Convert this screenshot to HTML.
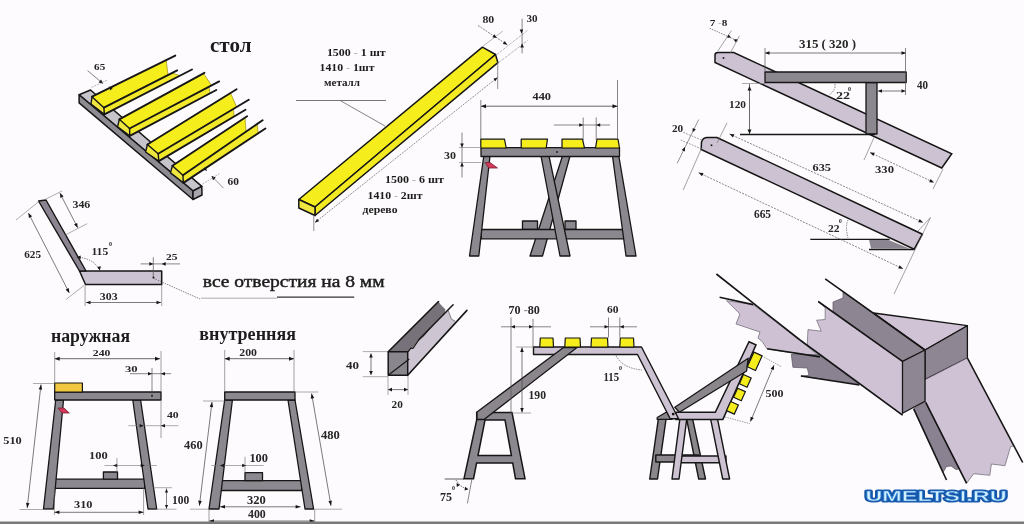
<!DOCTYPE html>
<html><head><meta charset="utf-8"><style>
html,body{margin:0;padding:0;background:#fdfbfd;}
svg{display:block;}
</style></head><body>
<svg width="1024" height="524" viewBox="0 0 1024 524">
<defs><filter id="soft" x="0" y="0" width="1" height="1"><feGaussianBlur stdDeviation="0.4"/></filter></defs>
<g filter="url(#soft)">
<rect width="1024" height="524" fill="#fdfbfd"/>
<polygon points="79.1,94.8 90.5,90.0 201.8,186.4 193.0,191.0" fill="#c8c4cc" stroke="#161616" stroke-width="1.5" stroke-linejoin="round" />
<polygon points="79.1,94.8 193.0,191.0 193.0,199.5 79.1,102.9" fill="#8e8a92" stroke="#161616" stroke-width="1.5" stroke-linejoin="round" />
<polygon points="193.0,191.0 201.8,186.4 202.0,195.0 193.0,199.5" fill="#a9a5ad" stroke="#161616" stroke-width="1.5" stroke-linejoin="round" />
<polygon points="92.0,96.7 103.9,107.7 168.0,75.1 166.2,60.1" fill="#f6ee1c" />
<polygon points="103.9,107.7 104.4,114.4 180.0,75.7 172.0,73.0" fill="#f2e92a" />
<polygon points="92.0,96.7 103.9,107.7 104.4,114.4 91.0,104.0" fill="#efe640" stroke="#161616" stroke-width="1.4" stroke-linejoin="round" />
<line x1="166.2" y1="60.1" x2="168.0" y2="75.1" stroke="#a89a20" stroke-width="0.8"/>
<line x1="172.0" y1="73.0" x2="180.0" y2="75.7" stroke="#a89a20" stroke-width="0.8"/>
<line x1="92.0" y1="96.7" x2="175.3" y2="55.6" stroke="#161616" stroke-width="1.9" stroke-linecap="round"/>
<line x1="103.9" y1="107.7" x2="177.2" y2="70.4" stroke="#161616" stroke-width="1.9" stroke-linecap="round"/>
<line x1="104.4" y1="114.4" x2="192.0" y2="69.5" stroke="#161616" stroke-width="1.9" stroke-linecap="round"/>
<polygon points="119.3,119.3 129.6,128.5 211.5,85.4 203.4,73.3" fill="#f6ee1c" />
<polygon points="129.6,128.5 129.8,135.9 210.0,93.3 209.0,86.8" fill="#f2e92a" />
<polygon points="119.3,119.3 129.6,128.5 129.8,135.9 117.6,126.8" fill="#efe640" stroke="#161616" stroke-width="1.4" stroke-linejoin="round" />
<line x1="203.4" y1="73.3" x2="211.5" y2="85.4" stroke="#a89a20" stroke-width="0.8"/>
<line x1="209.0" y1="86.8" x2="210.0" y2="93.3" stroke="#a89a20" stroke-width="0.8"/>
<line x1="119.3" y1="119.3" x2="204.4" y2="72.8" stroke="#161616" stroke-width="1.9" stroke-linecap="round"/>
<line x1="129.6" y1="128.5" x2="219.2" y2="81.4" stroke="#161616" stroke-width="1.9" stroke-linecap="round"/>
<line x1="129.8" y1="135.9" x2="216.3" y2="90.0" stroke="#161616" stroke-width="1.9" stroke-linecap="round"/>
<polygon points="147.4,144.5 158.2,153.7 236.6,107.0 230.5,93.0" fill="#f6ee1c" />
<polygon points="158.2,153.7 158.8,161.1 234.0,116.5 233.5,108.8" fill="#f2e92a" />
<polygon points="147.4,144.5 158.2,153.7 158.8,161.1 145.6,152.0" fill="#efe640" stroke="#161616" stroke-width="1.4" stroke-linejoin="round" />
<line x1="230.5" y1="93.0" x2="236.6" y2="107.0" stroke="#a89a20" stroke-width="0.8"/>
<line x1="233.5" y1="108.8" x2="234.0" y2="116.5" stroke="#a89a20" stroke-width="0.8"/>
<line x1="147.4" y1="144.5" x2="236.6" y2="89.2" stroke="#161616" stroke-width="1.9" stroke-linecap="round"/>
<line x1="158.2" y1="153.7" x2="248.8" y2="99.7" stroke="#161616" stroke-width="1.9" stroke-linecap="round"/>
<line x1="158.8" y1="161.1" x2="245.5" y2="109.7" stroke="#161616" stroke-width="1.9" stroke-linecap="round"/>
<polygon points="172.4,165.7 182.9,175.3 246.0,131.7 245.0,117.7" fill="#f6ee1c" />
<polygon points="182.9,175.3 183.4,182.9 258.2,133.3 257.1,124.0" fill="#f2e92a" />
<polygon points="172.4,165.7 182.9,175.3 183.4,182.9 170.5,172.9" fill="#efe640" stroke="#161616" stroke-width="1.4" stroke-linejoin="round" />
<line x1="245.0" y1="117.7" x2="246.0" y2="131.7" stroke="#a89a20" stroke-width="0.8"/>
<line x1="257.1" y1="124.0" x2="258.2" y2="133.3" stroke="#a89a20" stroke-width="0.8"/>
<line x1="172.4" y1="165.7" x2="247.1" y2="116.3" stroke="#161616" stroke-width="1.9" stroke-linecap="round"/>
<line x1="182.9" y1="175.3" x2="262.6" y2="120.2" stroke="#161616" stroke-width="1.9" stroke-linecap="round"/>
<line x1="183.4" y1="182.9" x2="265.4" y2="128.5" stroke="#161616" stroke-width="1.9" stroke-linecap="round"/>
<text x="94.1" y="70.2" font-family="Liberation Serif" font-size="8.939393939393948" font-weight="bold" fill="#222" textLength="11.1" lengthAdjust="spacingAndGlyphs" >65</text>
<line x1="87.6" y1="70.6" x2="102.9" y2="83.6" stroke="#666" stroke-width="0.8"/>
<polygon points="102.9,83.6 98.6,82.5 101.1,79.6" fill="#161616" />
<polygon points="108.6,86.6 112.9,87.7 110.4,90.6" fill="#161616" />
<line x1="91.5" y1="87.4" x2="107.5" y2="80.1" stroke="#888" stroke-width="0.6" stroke-dasharray="2,1"/>
<text x="227.5" y="184.7" font-family="Liberation Serif" font-size="9.393939393939377" font-weight="bold" fill="#222" textLength="11.4" lengthAdjust="spacingAndGlyphs" >60</text>
<line x1="211.6" y1="176.0" x2="223.6" y2="188.3" stroke="#777" stroke-width="0.8"/>
<polygon points="211.6,176.0 215.8,177.5 213.0,180.2" fill="#161616" />
<polygon points="207.0,171.0 202.8,169.5 205.5,166.8" fill="#161616" />
<line x1="202.5" y1="184.0" x2="219.4" y2="173.7" stroke="#888" stroke-width="0.6" stroke-dasharray="2,1"/>
<text x="210.0" y="52.2" font-family="Liberation Serif" font-size="21.5" font-weight="bold" fill="#1e1e1e" textLength="41.5" lengthAdjust="spacingAndGlyphs" >стол</text>
<polygon points="298.8,199.5 315.0,207.0 495.5,54.5 482.4,47.2" fill="#f6ee1c" stroke="#161616" stroke-width="1.5" stroke-linejoin="round" />
<polygon points="315.0,207.0 315.0,215.5 497.9,62.7 495.5,54.5" fill="#f3ea24" stroke="#161616" stroke-width="1.5" stroke-linejoin="round" />
<polygon points="298.8,199.5 315.0,207.0 315.0,215.5 298.8,208.0" fill="#efe640" stroke="#161616" stroke-width="1.5" stroke-linejoin="round" />
<line x1="296.0" y1="100.5" x2="386.0" y2="100.5" stroke="#666" stroke-width="0.9"/>
<line x1="341.0" y1="101.0" x2="385.0" y2="126.0" stroke="#666" stroke-width="0.8"/>
<line x1="315.0" y1="222.5" x2="497.5" y2="77.5" stroke="#666" stroke-width="0.7" stroke-dasharray="2,1"/>
<polygon points="315.0,222.5 317.1,218.8 319.1,221.3" fill="#161616" />
<polygon points="497.5,77.5 495.4,81.2 493.4,78.7" fill="#161616" />
<line x1="313.8" y1="215.0" x2="313.8" y2="231.0" stroke="#666" stroke-width="0.7"/>
<line x1="497.7" y1="62.0" x2="497.7" y2="89.0" stroke="#666" stroke-width="0.7"/>
<line x1="482.4" y1="46.6" x2="502.9" y2="31.0" stroke="#888" stroke-width="0.6"/>
<line x1="496.7" y1="54.6" x2="528.3" y2="29.8" stroke="#888" stroke-width="0.6" stroke-dasharray="3,1"/>
<line x1="498.5" y1="62.7" x2="527.7" y2="40.4" stroke="#888" stroke-width="0.6" stroke-dasharray="3,1"/>
<line x1="478.0" y1="25.5" x2="507.2" y2="44.7" stroke="#555" stroke-width="0.7" stroke-dasharray="2,1"/>
<polygon points="496.7,37.9 492.4,37.2 494.4,34.2" fill="#161616" />
<polygon points="507.2,44.7 502.9,44.0 504.8,41.0" fill="#161616" />
<line x1="522.1" y1="18.7" x2="522.1" y2="53.4" stroke="#555" stroke-width="0.7"/>
<polygon points="521.5,33.5 519.7,29.5 523.3,29.5" fill="#161616" />
<polygon points="522.1,43.5 523.9,47.5 520.3,47.5" fill="#161616" />
<text x="482.4" y="23.0" font-family="Liberation Serif" font-size="9.393939393939393" font-weight="bold" fill="#252525" textLength="11.8" lengthAdjust="spacingAndGlyphs" >80</text>
<text x="526.5" y="22.4" font-family="Liberation Serif" font-size="9.393939393939393" font-weight="bold" fill="#252525" textLength="11.1" lengthAdjust="spacingAndGlyphs" >30</text>
<text x="326.9" y="55.5" font-family="Liberation Serif" font-size="10.000000000000002" font-weight="bold" fill="#1a1a1a" textLength="58.7" lengthAdjust="spacingAndGlyphs" >1500 <tspan fill="#b0b0b0">-</tspan> 1 шт</text>
<text x="319.6" y="70.6" font-family="Liberation Serif" font-size="9.999999999999991" font-weight="bold" fill="#1a1a1a" textLength="55.0" lengthAdjust="spacingAndGlyphs" >1410 <tspan fill="#b0b0b0">-</tspan> 1шт</text>
<text x="324.0" y="86.0" font-family="Liberation Serif" font-size="9.5" font-weight="bold" fill="#222" textLength="36.0" lengthAdjust="spacingAndGlyphs" >металл</text>
<text x="385.0" y="182.5" font-family="Liberation Serif" font-size="9.848484848484848" font-weight="bold" fill="#1a1a1a" textLength="59.0" lengthAdjust="spacingAndGlyphs" >1500 <tspan fill="#b0b0b0">-</tspan> 6 шт</text>
<text x="367.5" y="199.0" font-family="Liberation Serif" font-size="10.606060606060606" font-weight="bold" fill="#1a1a1a" textLength="55.0" lengthAdjust="spacingAndGlyphs" >1410 <tspan fill="#b0b0b0">-</tspan> 2шт</text>
<text x="362.5" y="212.5" font-family="Liberation Serif" font-size="10.5" font-weight="bold" fill="#222" textLength="35.0" lengthAdjust="spacingAndGlyphs" >дерево</text>
<polygon points="522.5,221.0 537.5,221.0 537.5,229.5 522.5,229.5" fill="#8c8890" stroke="#161616" stroke-width="1.3" stroke-linejoin="round" />
<polygon points="565.0,221.0 576.0,221.0 576.0,229.5 565.0,229.5" fill="#8c8890" stroke="#161616" stroke-width="1.3" stroke-linejoin="round" />
<polygon points="562.5,156.0 570.0,156.0 542.5,256.0 530.0,256.0" fill="#8c8890" stroke="#161616" stroke-width="1.3" stroke-linejoin="round" />
<polygon points="481.2,229.5 625.0,229.5 625.0,238.8 481.2,238.8" fill="#8c8890" stroke="#161616" stroke-width="1.3" stroke-linejoin="round" />
<polygon points="483.8,156.0 490.0,156.0 478.8,256.0 469.5,256.0" fill="#8c8890" stroke="#161616" stroke-width="1.3" stroke-linejoin="round" />
<polygon points="541.0,156.0 549.0,156.0 570.0,256.0 560.0,256.0" fill="#8c8890" stroke="#161616" stroke-width="1.3" stroke-linejoin="round" />
<polygon points="612.5,156.0 618.8,156.0 636.0,256.0 626.0,256.0" fill="#8c8890" stroke="#161616" stroke-width="1.3" stroke-linejoin="round" />
<polygon points="481.0,147.6 619.5,147.6 619.5,156.5 481.0,156.5" fill="#8c8890" stroke="#161616" stroke-width="1.3" stroke-linejoin="round" />
<polygon points="480.8,139.2 504.5,139.2 506.2,148.0 480.8,148.0" fill="#f6ee1c" stroke="#161616" stroke-width="1.2" stroke-linejoin="round" />
<polygon points="521.2,139.2 547.5,139.2 546.2,148.0 521.2,148.0" fill="#f6ee1c" stroke="#161616" stroke-width="1.2" stroke-linejoin="round" />
<polygon points="562.0,139.2 582.5,139.2 584.5,148.0 562.0,148.0" fill="#f6ee1c" stroke="#161616" stroke-width="1.2" stroke-linejoin="round" />
<polygon points="597.0,139.2 618.0,139.2 619.5,148.0 595.5,148.0" fill="#f6ee1c" stroke="#161616" stroke-width="1.2" stroke-linejoin="round" />
<polygon points="485.0,162.5 490.0,162.5 497.5,168.0 488.8,168.0" fill="#d2385a" stroke="#7a2030" stroke-width="0.8" stroke-linejoin="round" />
<line x1="481.0" y1="106.2" x2="617.5" y2="106.2" stroke="#444" stroke-width="0.8"/>
<polygon points="481.0,106.2 486.0,104.2 486.0,108.2" fill="#161616" />
<polygon points="617.5,106.2 612.5,108.2 612.5,104.2" fill="#161616" />
<line x1="480.8" y1="100.0" x2="480.8" y2="139.0" stroke="#555" stroke-width="0.7"/>
<line x1="617.5" y1="80.0" x2="617.5" y2="139.0" stroke="#555" stroke-width="0.7"/>
<text x="532.5" y="100.0" font-family="Liberation Serif" font-size="11.363636363636363" font-weight="bold" fill="#252525" textLength="18.5" lengthAdjust="spacingAndGlyphs" >440</text>
<line x1="553.8" y1="125.0" x2="610.0" y2="125.0" stroke="#555" stroke-width="0.7"/>
<polygon points="583.2,125.0 579.2,126.8 579.2,123.2" fill="#161616" />
<polygon points="596.2,125.0 600.2,123.2 600.2,126.8" fill="#161616" />
<line x1="583.2" y1="117.5" x2="583.2" y2="140.0" stroke="#555" stroke-width="0.7"/>
<line x1="596.2" y1="117.5" x2="596.2" y2="140.0" stroke="#555" stroke-width="0.7"/>
<line x1="462.0" y1="132.5" x2="462.0" y2="177.5" stroke="#555" stroke-width="0.7"/>
<polygon points="462.0,147.5 460.2,143.5 463.8,143.5" fill="#161616" />
<polygon points="462.0,162.5 463.8,166.5 460.2,166.5" fill="#161616" />
<line x1="459.0" y1="147.5" x2="481.0" y2="147.5" stroke="#777" stroke-width="0.6"/>
<line x1="459.0" y1="162.5" x2="481.0" y2="162.5" stroke="#777" stroke-width="0.6"/>
<text x="444.0" y="158.6" font-family="Liberation Serif" font-size="10.606060606060606" font-weight="bold" fill="#252525" textLength="12.0" lengthAdjust="spacingAndGlyphs" >30</text>
<path d="M715,62.5 L715,55 Q715,52.5 718,52.5 L733.75,52.5 L951.75,153.75 L941.75,168 Z" fill="#cdc2d2" stroke="#161616" stroke-width="1.5"/>
<polygon points="866.0,82.5 877.0,82.5 877.0,134.0 866.0,134.0" fill="#8c8890" stroke="#161616" stroke-width="1.3" stroke-linejoin="round" />
<polygon points="765.0,72.0 906.2,72.0 906.2,82.5 765.0,82.5" fill="#8c8890" stroke="#161616" stroke-width="1.3" stroke-linejoin="round" />
<line x1="740.0" y1="134.5" x2="875.0" y2="134.5" stroke="#161616" stroke-width="1.3"/>
<path d="M701.2,149.5 L701.5,142 Q703,137.5 707.3,137.5 L717,137.5 L922.4,234.2 L914.2,249.2 Z" fill="#cdc2d2" stroke="#161616" stroke-width="1.5"/>
<polygon points="869.0,239.6 887.5,239.6 909.4,248.5 871.0,248.5" fill="#8a8590" />
<line x1="810.3" y1="239.4" x2="889.6" y2="239.4" stroke="#161616" stroke-width="1.4"/>
<line x1="869.0" y1="249.5" x2="914.2" y2="249.5" stroke="#161616" stroke-width="1.4"/>
<line x1="765.0" y1="53.0" x2="906.0" y2="53.0" stroke="#444" stroke-width="0.7"/>
<polygon points="765.0,53.0 769.5,51.2 769.5,54.8" fill="#161616" />
<polygon points="906.0,53.0 901.5,54.8 901.5,51.2" fill="#161616" />
<line x1="765.0" y1="48.0" x2="765.0" y2="72.0" stroke="#555" stroke-width="0.7"/>
<line x1="905.5" y1="48.0" x2="905.5" y2="95.0" stroke="#555" stroke-width="0.7"/>
<text x="799.0" y="47.5" font-family="Liberation Serif" font-size="12.878787878787879" font-weight="bold" fill="#252525" textLength="57.0" lengthAdjust="spacingAndGlyphs" >315 ( 320 )</text>
<line x1="878.0" y1="91.0" x2="905.5" y2="91.0" stroke="#444" stroke-width="0.7"/>
<polygon points="878.0,91.0 882.0,89.2 882.0,92.8" fill="#161616" />
<polygon points="905.5,91.0 901.5,92.8 901.5,89.2" fill="#161616" />
<text x="917.0" y="89.0" font-family="Liberation Serif" font-size="12.121212121212121" font-weight="bold" fill="#252525" textLength="11.0" lengthAdjust="spacingAndGlyphs" >40</text>
<line x1="749.5" y1="84.0" x2="749.5" y2="134.0" stroke="#444" stroke-width="0.8"/>
<polygon points="749.5,86.0 751.5,90.5 747.5,90.5" fill="#161616" />
<polygon points="749.5,134.0 747.5,129.5 751.5,129.5" fill="#161616" />
<line x1="742.0" y1="83.5" x2="765.0" y2="83.5" stroke="#777" stroke-width="0.6"/>
<text x="729.0" y="107.5" font-family="Liberation Serif" font-size="11.363636363636363" font-weight="bold" fill="#252525" textLength="17.0" lengthAdjust="spacingAndGlyphs" >120</text>
<text x="836.0" y="99.0" font-family="Liberation Serif" font-size="11.363636363636363" font-weight="bold" fill="#252525" textLength="14.0" lengthAdjust="spacingAndGlyphs" >22</text>
<text x="848.0" y="91.0" font-family="Liberation Serif" font-size="6" font-weight="bold" fill="#252525" >0</text>
<path d="M835,84 Q836,90 829,95" fill="none" stroke="#555" stroke-width="0.7" stroke-dasharray="1.5,1"/>
<text x="709.7" y="25.5" font-family="Liberation Serif" font-size="8.787878787878789" font-weight="bold" fill="#1a1a1a" textLength="17.8" lengthAdjust="spacingAndGlyphs" >7 <tspan fill="#b0b0b0">-</tspan>8</text>
<line x1="709.7" y1="28.3" x2="737.8" y2="40.9" stroke="#555" stroke-width="0.7" stroke-dasharray="1.5,1"/>
<line x1="717.7" y1="51.2" x2="731.5" y2="30.6" stroke="#666" stroke-width="0.6"/>
<line x1="730.3" y1="53.0" x2="739.5" y2="35.8" stroke="#666" stroke-width="0.6"/>
<polygon points="731.0,37.5 727.1,37.7 728.5,34.4" fill="#161616" />
<polygon points="733.5,39.5 737.4,39.3 736.0,42.6" fill="#161616" />
<line x1="683.2" y1="132.3" x2="703.0" y2="140.6" stroke="#666" stroke-width="0.6" stroke-dasharray="2,1"/>
<line x1="680.6" y1="140.0" x2="701.2" y2="148.7" stroke="#666" stroke-width="0.6" stroke-dasharray="2,1"/>
<line x1="698.7" y1="119.5" x2="677.2" y2="163.3" stroke="#666" stroke-width="0.7"/>
<polygon points="692.6,132.3 692.7,127.9 695.9,129.4" fill="#161616" />
<polygon points="685.0,147.0 684.9,151.4 681.7,149.9" fill="#161616" />
<text x="672.0" y="131.5" font-family="Liberation Serif" font-size="10.454545454545462" font-weight="bold" fill="#252525" textLength="11.2" lengthAdjust="spacingAndGlyphs" >20</text>
<line x1="727.0" y1="122.9" x2="717.0" y2="143.0" stroke="#666" stroke-width="0.6"/>
<line x1="729.6" y1="134.0" x2="923.0" y2="222.5" stroke="#555" stroke-width="0.7" stroke-dasharray="2,1.2"/>
<polygon points="729.6,134.0 734.4,134.2 732.9,137.5" fill="#161616" />
<polygon points="923.0,222.5 918.2,222.3 919.7,219.0" fill="#161616" />
<line x1="918.0" y1="231.0" x2="930.5" y2="217.5" stroke="#666" stroke-width="0.6"/>
<text x="812.5" y="171.0" font-family="Liberation Serif" font-size="10.606060606060606" font-weight="bold" fill="#252525" textLength="18.5" lengthAdjust="spacingAndGlyphs" >635</text>
<line x1="702.1" y1="147.0" x2="683.2" y2="190.0" stroke="#666" stroke-width="0.6"/>
<line x1="698.7" y1="172.7" x2="903.0" y2="268.8" stroke="#555" stroke-width="0.7" stroke-dasharray="2,1.2"/>
<polygon points="698.7,172.7 703.5,173.0 702.0,176.2" fill="#161616" />
<polygon points="903.0,268.8 898.2,268.5 899.7,265.2" fill="#161616" />
<line x1="894.0" y1="294.0" x2="930.5" y2="217.5" stroke="#666" stroke-width="0.6"/>
<text x="754.0" y="218.0" font-family="Liberation Serif" font-size="12.121212121212121" font-weight="bold" fill="#252525" textLength="17.0" lengthAdjust="spacingAndGlyphs" >665</text>
<line x1="864.0" y1="160.0" x2="874.0" y2="137.5" stroke="#666" stroke-width="0.6"/>
<line x1="870.0" y1="152.5" x2="934.0" y2="182.5" stroke="#555" stroke-width="0.7" stroke-dasharray="2,1.2"/>
<polygon points="870.0,152.5 874.8,152.8 873.3,156.0" fill="#161616" />
<polygon points="934.0,182.5 929.2,182.2 930.7,179.0" fill="#161616" />
<line x1="933.0" y1="189.0" x2="943.0" y2="169.0" stroke="#666" stroke-width="0.6"/>
<text x="875.0" y="173.0" font-family="Liberation Serif" font-size="11.363636363636363" font-weight="bold" fill="#252525" textLength="19.0" lengthAdjust="spacingAndGlyphs" >330</text>
<text x="828.0" y="231.5" font-family="Liberation Serif" font-size="9.393939393939377" font-weight="bold" fill="#252525" textLength="11.6" lengthAdjust="spacingAndGlyphs" >22</text>
<text x="839.0" y="223.0" font-family="Liberation Serif" font-size="5.5" font-weight="bold" fill="#252525" >0</text>
<path d="M848,220 Q845,226 848,238" fill="none" stroke="#555" stroke-width="0.7" stroke-dasharray="1.5,1"/>
<polygon points="79.5,271.0 161.7,271.0 161.7,284.5 85.5,284.5" fill="#cbc3d1" stroke="#161616" stroke-width="1.5" stroke-linejoin="round" />
<polygon points="38.5,201.0 46.0,200.0 86.0,271.0 79.5,271.0" fill="#8c8490" stroke="#161616" stroke-width="1.4" stroke-linejoin="round" />
<text x="72.5" y="207.8" font-family="Liberation Serif" font-size="11.060606060606077" font-weight="bold" fill="#252525" textLength="17.8" lengthAdjust="spacingAndGlyphs" >346</text>
<line x1="59.9" y1="193.1" x2="77.7" y2="227.8" stroke="#444" stroke-width="0.7"/>
<polygon points="59.9,193.1 63.6,196.3 60.4,197.9" fill="#161616" />
<polygon points="77.7,227.8 74.0,224.6 77.2,223.0" fill="#161616" />
<line x1="45.2" y1="199.4" x2="62.0" y2="191.0" stroke="#777" stroke-width="0.6"/>
<line x1="65.1" y1="235.1" x2="87.2" y2="223.6" stroke="#777" stroke-width="0.6"/>
<text x="24.2" y="258.2" font-family="Liberation Serif" font-size="11.060606060606034" font-weight="bold" fill="#252525" textLength="16.8" lengthAdjust="spacingAndGlyphs" >625</text>
<line x1="28.4" y1="213.1" x2="69.3" y2="292.9" stroke="#444" stroke-width="0.7"/>
<polygon points="28.4,213.1 32.1,216.3 28.9,217.9" fill="#161616" />
<polygon points="69.3,292.9 65.6,289.7 68.8,288.1" fill="#161616" />
<line x1="16.0" y1="220.0" x2="38.9" y2="201.5" stroke="#777" stroke-width="0.6"/>
<line x1="66.0" y1="299.5" x2="84.0" y2="285.5" stroke="#777" stroke-width="0.6"/>
<text x="91.4" y="255.1" font-family="Liberation Serif" font-size="11.21212121212122" font-weight="bold" fill="#252525" textLength="16.8" lengthAdjust="spacingAndGlyphs" >115</text>
<text x="109.0" y="246.0" font-family="Liberation Serif" font-size="6" font-weight="bold" fill="#252525" >0</text>
<path d="M76.7,257.2 Q94,258 99.8,270.8" fill="none" stroke="#555" stroke-width="0.7" stroke-dasharray="1.5,1"/>
<polygon points="99.8,270.5 97.3,266.9 100.9,266.2" fill="#161616" />
<polygon points="76.7,257.2 80.7,255.4 80.7,259.0" fill="#161616" />
<text x="166.0" y="260.3" font-family="Liberation Serif" font-size="8.787878787878805" font-weight="bold" fill="#252525" textLength="11.5" lengthAdjust="spacingAndGlyphs" >25</text>
<line x1="140.7" y1="263.9" x2="180.0" y2="263.9" stroke="#555" stroke-width="0.7"/>
<polygon points="153.3,263.9 149.3,265.7 149.3,262.1" fill="#161616" />
<polygon points="161.7,263.9 165.7,262.1 165.7,265.7" fill="#161616" />
<line x1="153.3" y1="257.2" x2="153.3" y2="278.2" stroke="#555" stroke-width="0.7"/>
<line x1="153.3" y1="278.2" x2="200.0" y2="299.0" stroke="#555" stroke-width="0.7" stroke-dasharray="1.5,1"/>
<text x="99.8" y="300.0" font-family="Liberation Serif" font-size="9.848484848484848" font-weight="bold" fill="#252525" textLength="17.8" lengthAdjust="spacingAndGlyphs" >303</text>
<line x1="86.0" y1="302.5" x2="161.0" y2="302.5" stroke="#444" stroke-width="0.7"/>
<polygon points="86.0,302.5 90.5,300.7 90.5,304.3" fill="#161616" />
<polygon points="161.0,302.5 156.5,304.3 156.5,300.7" fill="#161616" />
<line x1="85.1" y1="284.5" x2="85.1" y2="306.0" stroke="#666" stroke-width="0.6"/>
<line x1="161.7" y1="284.5" x2="161.7" y2="306.0" stroke="#666" stroke-width="0.6"/>
<text x="202.8" y="286.9" font-family="Liberation Serif" font-size="16.6" font-weight="normal" fill="#1e1e1e" textLength="181.7" lengthAdjust="spacingAndGlyphs" stroke="#1e1e1e" stroke-width="0.45">все отверстия на 8 мм</text>
<line x1="200.9" y1="298.2" x2="277.0" y2="298.2" stroke="#999" stroke-width="0.8"/>
<line x1="277.0" y1="297.2" x2="354.2" y2="297.2" stroke="#333" stroke-width="1.3"/>
<text x="51.0" y="341.9" font-family="Liberation Serif" font-size="18" font-weight="bold" fill="#1e1e1e" textLength="79.0" lengthAdjust="spacingAndGlyphs" >наружная</text>
<polygon points="54.4,479.2 144.7,479.2 144.7,488.3 54.4,488.3" fill="#8c8890" stroke="#161616" stroke-width="1.3" stroke-linejoin="round" />
<polygon points="103.4,472.0 117.5,472.0 117.5,479.2 103.4,479.2" fill="#8c8890" stroke="#161616" stroke-width="1.3" stroke-linejoin="round" />
<polygon points="55.7,400.0 63.5,400.0 53.3,509.0 43.5,509.0" fill="#8c8890" stroke="#161616" stroke-width="1.3" stroke-linejoin="round" />
<polygon points="132.8,400.0 140.6,400.0 156.7,509.0 148.0,509.0" fill="#8c8890" stroke="#161616" stroke-width="1.3" stroke-linejoin="round" />
<polygon points="54.7,392.0 161.0,392.0 161.0,400.0 54.7,400.0" fill="#8c8890" stroke="#161616" stroke-width="1.3" stroke-linejoin="round" />
<polygon points="54.7,383.0 82.4,383.0 82.4,392.0 54.7,392.0" fill="#f2c840" stroke="#161616" stroke-width="1.2" stroke-linejoin="round" />
<polygon points="58.0,408.0 64.0,408.0 69.3,413.0 62.0,413.0" fill="#d2385a" stroke="#7a2030" stroke-width="0.8" stroke-linejoin="round" />
<text x="92.8" y="356.0" font-family="Liberation Serif" font-size="9.09090909090909" font-weight="bold" fill="#252525" textLength="17.6" lengthAdjust="spacingAndGlyphs" >240</text>
<line x1="54.7" y1="358.7" x2="160.0" y2="358.7" stroke="#444" stroke-width="0.8"/>
<polygon points="54.7,358.7 59.7,356.7 59.7,360.7" fill="#161616" />
<polygon points="160.0,358.7 155.0,360.7 155.0,356.7" fill="#161616" />
<line x1="54.7" y1="352.0" x2="54.7" y2="383.0" stroke="#666" stroke-width="0.6"/>
<line x1="161.0" y1="351.0" x2="161.0" y2="392.0" stroke="#666" stroke-width="0.6"/>
<line x1="161.0" y1="400.0" x2="161.0" y2="438.0" stroke="#666" stroke-width="0.6"/>
<text x="125.0" y="372.0" font-family="Liberation Serif" font-size="9.09090909090909" font-weight="bold" fill="#252525" textLength="12.7" lengthAdjust="spacingAndGlyphs" >30</text>
<line x1="130.0" y1="373.7" x2="171.0" y2="373.7" stroke="#555" stroke-width="0.7"/>
<polygon points="152.0,373.7 148.0,375.5 148.0,371.9" fill="#161616" />
<polygon points="161.0,373.7 165.0,371.9 165.0,375.5" fill="#161616" />
<line x1="152.0" y1="368.0" x2="152.0" y2="395.0" stroke="#555" stroke-width="0.7"/>
<text x="167.0" y="417.7" font-family="Liberation Serif" font-size="8.939393939393904" font-weight="bold" fill="#252525" textLength="11.7" lengthAdjust="spacingAndGlyphs" >40</text>
<line x1="128.4" y1="425.7" x2="178.5" y2="425.7" stroke="#777" stroke-width="0.6"/>
<polygon points="143.6,425.7 139.6,427.5 139.6,423.9" fill="#161616" />
<polygon points="161.0,425.7 165.0,423.9 165.0,427.5" fill="#161616" />
<text x="3.3" y="443.7" font-family="Liberation Serif" font-size="9.848484848484848" font-weight="bold" fill="#252525" textLength="18.5" lengthAdjust="spacingAndGlyphs" >510</text>
<line x1="41.0" y1="384.5" x2="27.2" y2="508.0" stroke="#444" stroke-width="0.7"/>
<polygon points="41.0,384.5 42.2,389.7 38.7,389.3" fill="#161616" />
<polygon points="27.2,508.0 26.0,502.8 29.5,503.2" fill="#161616" />
<line x1="33.0" y1="383.5" x2="54.7" y2="383.5" stroke="#777" stroke-width="0.6"/>
<line x1="19.6" y1="509.5" x2="53.3" y2="509.5" stroke="#777" stroke-width="0.6"/>
<text x="89.0" y="459.0" font-family="Liberation Serif" font-size="10.000000000000034" font-weight="bold" fill="#252525" textLength="18.7" lengthAdjust="spacingAndGlyphs" >100</text>
<line x1="104.5" y1="465.5" x2="156.7" y2="465.5" stroke="#777" stroke-width="0.6"/>
<polygon points="113.2,465.5 117.2,463.7 117.2,467.3" fill="#161616" />
<polygon points="144.7,465.5 140.7,467.3 140.7,463.7" fill="#161616" />
<line x1="116.9" y1="458.0" x2="116.9" y2="472.0" stroke="#666" stroke-width="0.6"/>
<text x="74.0" y="508.0" font-family="Liberation Serif" font-size="11.363636363636363" font-weight="bold" fill="#252525" textLength="18.5" lengthAdjust="spacingAndGlyphs" >310</text>
<line x1="54.4" y1="512.3" x2="143.6" y2="512.3" stroke="#444" stroke-width="0.7"/>
<polygon points="54.4,512.3 59.4,510.5 59.4,514.1" fill="#161616" />
<polygon points="143.6,512.3 138.6,514.1 138.6,510.5" fill="#161616" />
<line x1="54.4" y1="488.0" x2="54.4" y2="515.0" stroke="#666" stroke-width="0.6"/>
<line x1="143.6" y1="488.0" x2="143.6" y2="515.0" stroke="#666" stroke-width="0.6"/>
<text x="172.0" y="503.6" font-family="Liberation Serif" font-size="11.51515151515155" font-weight="bold" fill="#252525" textLength="17.3" lengthAdjust="spacingAndGlyphs" >100</text>
<line x1="166.5" y1="488.3" x2="166.5" y2="509.0" stroke="#555" stroke-width="0.7"/>
<polygon points="166.5,489.0 168.1,492.5 164.9,492.5" fill="#161616" />
<polygon points="166.5,508.5 164.9,505.0 168.1,505.0" fill="#161616" />
<line x1="152.3" y1="487.7" x2="172.0" y2="487.7" stroke="#777" stroke-width="0.6"/>
<line x1="150.0" y1="509.2" x2="176.5" y2="509.2" stroke="#777" stroke-width="0.6"/>
<text x="199.3" y="339.5" font-family="Liberation Serif" font-size="18" font-weight="bold" fill="#1e1e1e" textLength="96.7" lengthAdjust="spacingAndGlyphs" >внутренняя</text>
<polygon points="221.0,480.7 301.7,480.7 301.7,490.5 221.0,490.5" fill="#8c8890" stroke="#161616" stroke-width="1.3" stroke-linejoin="round" />
<polygon points="245.0,472.7 262.5,472.7 262.5,480.7 245.0,480.7" fill="#8c8890" stroke="#161616" stroke-width="1.3" stroke-linejoin="round" />
<polygon points="224.7,400.0 232.4,400.0 219.0,509.0 209.0,509.0" fill="#8c8890" stroke="#161616" stroke-width="1.3" stroke-linejoin="round" />
<polygon points="288.0,400.0 295.0,400.0 313.6,509.0 305.0,509.0" fill="#8c8890" stroke="#161616" stroke-width="1.3" stroke-linejoin="round" />
<polygon points="224.7,392.0 295.0,392.0 295.0,400.0 224.7,400.0" fill="#8c8890" stroke="#161616" stroke-width="1.3" stroke-linejoin="round" />
<text x="239.3" y="355.5" font-family="Liberation Serif" font-size="9.848484848484848" font-weight="bold" fill="#252525" textLength="17.7" lengthAdjust="spacingAndGlyphs" >200</text>
<line x1="224.7" y1="358.7" x2="294.0" y2="358.7" stroke="#444" stroke-width="0.8"/>
<polygon points="224.7,358.7 229.7,356.7 229.7,360.7" fill="#161616" />
<polygon points="294.0,358.7 289.0,360.7 289.0,356.7" fill="#161616" />
<line x1="224.7" y1="350.0" x2="224.7" y2="392.0" stroke="#666" stroke-width="0.6"/>
<line x1="294.0" y1="350.0" x2="294.0" y2="392.0" stroke="#666" stroke-width="0.6"/>
<line x1="203.0" y1="401.0" x2="224.7" y2="401.0" stroke="#777" stroke-width="0.6"/>
<line x1="295.0" y1="392.0" x2="318.4" y2="392.0" stroke="#777" stroke-width="0.6"/>
<text x="184.0" y="449.2" font-family="Liberation Serif" font-size="11.515151515151462" font-weight="bold" fill="#252525" textLength="18.6" lengthAdjust="spacingAndGlyphs" >460</text>
<line x1="212.0" y1="402.0" x2="199.4" y2="505.8" stroke="#444" stroke-width="0.7"/>
<polygon points="212.0,402.0 213.2,407.2 209.6,406.7" fill="#161616" />
<polygon points="199.4,505.8 198.2,500.6 201.8,501.1" fill="#161616" />
<text x="321.0" y="439.4" font-family="Liberation Serif" font-size="11.515151515151462" font-weight="bold" fill="#252525" textLength="18.8" lengthAdjust="spacingAndGlyphs" >480</text>
<line x1="311.6" y1="393.5" x2="331.0" y2="505.8" stroke="#444" stroke-width="0.7"/>
<polygon points="311.6,393.5 314.2,398.1 310.7,398.7" fill="#161616" />
<polygon points="331.0,505.8 328.4,501.2 331.9,500.6" fill="#161616" />
<text x="249.4" y="462.2" font-family="Liberation Serif" font-size="11.515151515151462" font-weight="bold" fill="#252525" textLength="18.6" lengthAdjust="spacingAndGlyphs" >100</text>
<line x1="211.4" y1="465.5" x2="263.6" y2="465.5" stroke="#777" stroke-width="0.6"/>
<polygon points="220.0,465.5 224.0,463.7 224.0,467.3" fill="#161616" />
<polygon points="246.2,465.5 242.2,467.3 242.2,463.7" fill="#161616" />
<line x1="245.0" y1="456.8" x2="245.0" y2="473.0" stroke="#666" stroke-width="0.6"/>
<text x="247.0" y="503.6" font-family="Liberation Serif" font-size="11.51515151515155" font-weight="bold" fill="#252525" textLength="18.8" lengthAdjust="spacingAndGlyphs" >320</text>
<line x1="220.0" y1="506.8" x2="300.6" y2="506.8" stroke="#444" stroke-width="0.7"/>
<polygon points="220.0,506.8 225.0,505.0 225.0,508.6" fill="#161616" />
<polygon points="300.6,506.8 295.6,508.6 295.6,505.0" fill="#161616" />
<text x="248.0" y="517.7" font-family="Liberation Serif" font-size="11.666666666666735" font-weight="bold" fill="#252525" textLength="17.8" lengthAdjust="spacingAndGlyphs" >400</text>
<line x1="209.0" y1="521.0" x2="314.7" y2="521.0" stroke="#444" stroke-width="0.7"/>
<polygon points="209.0,521.0 214.0,519.2 214.0,522.8" fill="#161616" />
<polygon points="314.7,521.0 309.7,522.8 309.7,519.2" fill="#161616" />
<line x1="209.0" y1="509.0" x2="209.0" y2="522.0" stroke="#666" stroke-width="0.6"/>
<line x1="314.7" y1="509.0" x2="314.7" y2="522.0" stroke="#666" stroke-width="0.6"/>
<line x1="314.7" y1="509.2" x2="342.0" y2="509.2" stroke="#777" stroke-width="0.6"/>
<line x1="190.0" y1="509.2" x2="209.0" y2="509.2" stroke="#777" stroke-width="0.6"/>
<polygon points="388.2,351.8 438.5,301.5 441.0,305.0 445.0,309.0 444.0,314.0 432.0,326.0 424.0,336.0 418.0,341.0 411.0,349.0 408.0,351.8" fill="#777179" />
<polygon points="408.0,351.8 411.0,349.0 448.2,310.4 451.5,319.3 455.0,321.0 457.2,321.0 407.7,375.3" fill="#cdc5d1" />
<polyline points="445.0,309.0 444.0,314.0 432.0,326.0 424.0,336.0 418.0,341.0 411.0,349.0" fill="none" stroke="#555" stroke-width="0.7" stroke-linejoin="round"/>
<polyline points="448.2,310.4 451.5,319.3 455.0,321.0" fill="none" stroke="#555" stroke-width="0.7" stroke-linejoin="round"/>
<polygon points="388.2,351.8 407.7,351.8 407.7,375.3 388.2,375.3" fill="#8a868e" stroke="#161616" stroke-width="1.5" stroke-linejoin="round" />
<line x1="388.2" y1="375.3" x2="409.3" y2="359.0" stroke="#161616" stroke-width="1.1"/>
<line x1="388.2" y1="351.8" x2="438.5" y2="301.5" stroke="#161616" stroke-width="1.6" stroke-linecap="round"/>
<line x1="419.0" y1="339.5" x2="453.1" y2="304.7" stroke="#161616" stroke-width="1.5" stroke-linecap="round"/>
<polyline points="408.0,351.8 411.0,348.0 413.0,348.5 416.0,344.0 419.0,339.5" fill="none" stroke="#161616" stroke-width="1.2" stroke-linejoin="round"/>
<line x1="407.7" y1="375.3" x2="466.9" y2="310.4" stroke="#161616" stroke-width="1.6" stroke-linecap="round"/>
<line x1="362.7" y1="351.6" x2="388.0" y2="351.6" stroke="#777" stroke-width="0.6"/>
<line x1="362.7" y1="376.7" x2="388.0" y2="376.7" stroke="#777" stroke-width="0.6"/>
<line x1="371.0" y1="353.5" x2="371.0" y2="375.0" stroke="#444" stroke-width="0.7"/>
<polygon points="371.0,353.5 372.8,357.5 369.2,357.5" fill="#161616" />
<polygon points="371.0,375.0 369.2,371.0 372.8,371.0" fill="#161616" />
<text x="346.0" y="369.0" font-family="Liberation Serif" font-size="9.848484848484848" font-weight="bold" fill="#252525" textLength="13.0" lengthAdjust="spacingAndGlyphs" >40</text>
<line x1="388.0" y1="389.6" x2="408.0" y2="389.6" stroke="#444" stroke-width="0.7"/>
<polygon points="388.0,389.6 392.0,387.8 392.0,391.4" fill="#161616" />
<polygon points="408.0,389.6 404.0,391.4 404.0,387.8" fill="#161616" />
<line x1="388.0" y1="376.0" x2="388.0" y2="395.0" stroke="#777" stroke-width="0.6"/>
<line x1="408.0" y1="376.0" x2="408.0" y2="395.0" stroke="#777" stroke-width="0.6"/>
<text x="391.5" y="408.0" font-family="Liberation Serif" font-size="9.696969696969662" font-weight="bold" fill="#252525" textLength="11.3" lengthAdjust="spacingAndGlyphs" >20</text>
<path fill-rule="evenodd" d="M476.7,412.6 L512,412.6 L525,478.7 L515.5,478.7 L512.7,463 L476.6,463 L473.5,478.7 L464,478.7 L476.7,420 Z M485,420 L505,420 L511.4,455.6 L478,455.6 Z" fill="#8c8890" stroke="#161616" stroke-width="1.5"/>
<polygon points="658.3,419.4 666.0,419.4 657.5,479.0 649.7,479.0" fill="#8a868c" stroke="#161616" stroke-width="1.4" stroke-linejoin="round" />
<polygon points="686.7,419.4 692.7,419.4 705.5,479.0 698.7,479.0" fill="#8a868c" stroke="#161616" stroke-width="1.4" stroke-linejoin="round" />
<polygon points="655.8,455.0 698.7,455.0 698.7,462.0 655.8,462.0" fill="#8a868c" stroke="#161616" stroke-width="1.4" stroke-linejoin="round" />
<polygon points="676.4,456.0 726.0,456.0 726.0,462.8 676.4,462.8" fill="#cdc2d2" stroke="#161616" stroke-width="1.4" stroke-linejoin="round" />
<polygon points="679.8,419.4 686.7,419.4 679.0,479.0 672.0,479.0" fill="#cdc2d2" stroke="#161616" stroke-width="1.4" stroke-linejoin="round" />
<polygon points="710.7,419.4 717.6,419.4 729.6,479.0 722.7,479.0" fill="#cdc2d2" stroke="#161616" stroke-width="1.4" stroke-linejoin="round" />
<path d="M749,341.7 L756,344.9 L722.9,419.4 L676,419.4 L676,412.2 L715.3,412.2 Z" fill="#cdc2d2" stroke="#161616" stroke-width="1.5"/>
<polygon points="657.2,417.5 667.0,411.8 672.0,419.4 657.2,419.4" fill="#8a868c" stroke="#161616" stroke-width="1.3" stroke-linejoin="round" />
<polygon points="674.8,407.2 748.2,358.2 746.6,371.0 679.4,412.2" fill="#8a868c" stroke="#161616" stroke-width="1.3" stroke-linejoin="round" />
<polygon points="533.5,347.0 641.5,347.0 678.6,418.7 670.2,418.7 637.5,354.5 533.5,354.5" fill="#cdc2d2" stroke="#161616" stroke-width="1.4" stroke-linejoin="round" />
<polygon points="563.5,347.5 577.0,347.5 484.0,419.5 477.0,419.5 477.0,412.0" fill="#8a868c" stroke="#161616" stroke-width="1.3" stroke-linejoin="round" />
<circle cx="673.2" cy="414.1" r="1.4" fill="#111"/>
<polygon points="540.3,338.0 553.0,338.0 553.5,347.0 539.8,347.0" fill="#f6ee1c" stroke="#161616" stroke-width="1.2" stroke-linejoin="round" />
<polygon points="565.3,338.0 580.0,338.0 580.5,347.0 564.8,347.0" fill="#f6ee1c" stroke="#161616" stroke-width="1.2" stroke-linejoin="round" />
<polygon points="591.5,338.0 607.5,338.0 608.0,347.0 591.0,347.0" fill="#f6ee1c" stroke="#161616" stroke-width="1.2" stroke-linejoin="round" />
<polygon points="620.3,338.0 633.5,338.0 634.0,347.0 619.8,347.0" fill="#f6ee1c" stroke="#161616" stroke-width="1.2" stroke-linejoin="round" />
<rect x="750.2" y="353.3" width="9" height="16" fill="#f6ee1c" stroke="#161616" stroke-width="1.2" transform="rotate(24.3 754.7 361.3)"/>
<rect x="741.0" y="375.9" width="8.5" height="10" fill="#f6ee1c" stroke="#161616" stroke-width="1.2" transform="rotate(24.3 745.3 380.9)"/>
<rect x="735.2" y="389.5" width="8.5" height="10" fill="#f6ee1c" stroke="#161616" stroke-width="1.2" transform="rotate(24.3 739.5 394.5)"/>
<rect x="728.2" y="402.8" width="8.5" height="10" fill="#f6ee1c" stroke="#161616" stroke-width="1.2" transform="rotate(24.3 732.5 407.8)"/>
<text x="508.5" y="314.0" font-family="Liberation Serif" font-size="12.121212121212121" font-weight="bold" fill="#252525" textLength="31.3" lengthAdjust="spacingAndGlyphs" >70 <tspan fill="#888">-</tspan>80</text>
<line x1="501.0" y1="326.8" x2="551.0" y2="326.8" stroke="#555" stroke-width="0.7"/>
<polygon points="511.0,326.8 515.0,324.9 515.0,328.6" fill="#161616" />
<polygon points="533.0,326.8 529.0,328.6 529.0,324.9" fill="#161616" />
<line x1="511.0" y1="317.5" x2="511.0" y2="412.5" stroke="#555" stroke-width="0.7"/>
<line x1="533.0" y1="318.8" x2="533.0" y2="347.0" stroke="#555" stroke-width="0.7"/>
<text x="607.0" y="312.5" font-family="Liberation Serif" font-size="9.848484848484848" font-weight="bold" fill="#252525" textLength="11.5" lengthAdjust="spacingAndGlyphs" >60</text>
<line x1="590.0" y1="326.8" x2="637.0" y2="326.8" stroke="#555" stroke-width="0.7"/>
<polygon points="608.5,326.8 604.5,328.6 604.5,324.9" fill="#161616" />
<polygon points="619.8,326.8 623.8,324.9 623.8,328.6" fill="#161616" />
<line x1="608.5" y1="317.5" x2="608.5" y2="337.5" stroke="#555" stroke-width="0.7"/>
<line x1="619.8" y1="317.5" x2="619.8" y2="337.5" stroke="#555" stroke-width="0.7"/>
<line x1="522.0" y1="347.5" x2="522.0" y2="412.5" stroke="#444" stroke-width="0.7"/>
<polygon points="522.0,347.5 523.8,352.0 520.2,352.0" fill="#161616" />
<polygon points="522.0,412.5 520.2,408.0 523.8,408.0" fill="#161616" />
<line x1="516.0" y1="347.0" x2="533.5" y2="347.0" stroke="#777" stroke-width="0.6"/>
<line x1="511.0" y1="413.0" x2="531.0" y2="413.0" stroke="#777" stroke-width="0.6"/>
<text x="528.5" y="399.0" font-family="Liberation Serif" font-size="12.121212121212121" font-weight="bold" fill="#252525" textLength="17.5" lengthAdjust="spacingAndGlyphs" >190</text>
<text x="603.5" y="381.0" font-family="Liberation Serif" font-size="12.878787878787879" font-weight="bold" fill="#252525" textLength="15.5" lengthAdjust="spacingAndGlyphs" >115</text>
<text x="619.0" y="370.0" font-family="Liberation Serif" font-size="6" font-weight="bold" fill="#252525" >0</text>
<path d="M616,355.5 Q622,368 642,370" fill="none" stroke="#555" stroke-width="0.7" stroke-dasharray="1.5,1"/>
<text x="440.0" y="501.4" font-family="Liberation Serif" font-size="12.727272727272693" font-weight="bold" fill="#252525" textLength="12.0" lengthAdjust="spacingAndGlyphs" >75</text>
<text x="452.0" y="489.5" font-family="Liberation Serif" font-size="6" font-weight="bold" fill="#252525" >0</text>
<line x1="444.7" y1="479.0" x2="464.0" y2="479.0" stroke="#333" stroke-width="0.8"/>
<line x1="472.0" y1="478.7" x2="467.4" y2="503.4" stroke="#555" stroke-width="0.7"/>
<path d="M456,480 Q460,487 468,489.4" fill="none" stroke="#333" stroke-width="0.8" stroke-dasharray="1.5,1"/>
<polygon points="456.6,483.0 459.9,485.1 456.8,486.9" fill="#161616" />
<polygon points="468.3,489.2 464.5,490.4 465.2,486.8" fill="#161616" />
<text x="765.4" y="396.5" font-family="Liberation Serif" font-size="9.393939393939377" font-weight="bold" fill="#252525" textLength="18.0" lengthAdjust="spacingAndGlyphs" >500</text>
<line x1="774.0" y1="365.2" x2="750.4" y2="421.6" stroke="#444" stroke-width="0.7"/>
<polygon points="774.0,365.2 773.9,370.0 770.6,368.7" fill="#161616" />
<polygon points="750.4,421.6 750.5,416.8 753.8,418.1" fill="#161616" />
<line x1="762.0" y1="356.0" x2="781.0" y2="366.5" stroke="#777" stroke-width="0.7" stroke-dasharray="1.5,1"/>
<line x1="725.0" y1="417.0" x2="750.0" y2="423.7" stroke="#777" stroke-width="0.7" stroke-dasharray="1.5,1"/>
<polygon points="726.6,300.7 753.2,304.6 800.0,340.0 820.0,357.0 767.0,349.0 762.6,342.0 758.0,338.0 760.0,332.0 736.0,324.0 739.9,314.0" fill="#cdc1d3" stroke="#6a6270" stroke-width="0.7" stroke-linejoin="round" />
<polygon points="791.3,354.5 820.0,354.7 859.4,384.2 801.0,376.0 809.0,375.3 807.3,368.0 792.9,367.3" fill="#8a8290" stroke="#5a5260" stroke-width="0.7" stroke-linejoin="round" />
<line x1="767.2" y1="348.8" x2="820.0" y2="356.9" stroke="#161616" stroke-width="1.6"/>
<line x1="800.9" y1="376.0" x2="859.4" y2="385.0" stroke="#161616" stroke-width="1.6"/>
<line x1="719.6" y1="297.2" x2="753.2" y2="304.6" stroke="#161616" stroke-width="1.6"/>
<polygon points="818.2,301.5 902.5,361.3 902.5,415.2 884.0,401.6 807.2,345.3 808.0,329.6 821.3,331.2 816.6,320.2 825.2,319.5 825.2,307.7" fill="#cec2d4" stroke="#6a6270" stroke-width="0.7" stroke-linejoin="round" />
<polygon points="843.0,291.5 925.0,350.0 902.5,361.3 833.0,312.0 833.0,302.0 843.0,298.0" fill="#8e8592" stroke="#5a5260" stroke-width="0.7" stroke-linejoin="round" />
<polygon points="873.6,313.0 967.4,325.7 925.0,350.0" fill="#cfc3d5" stroke="#161616" stroke-width="1.3" stroke-linejoin="round" />
<polygon points="925.0,350.0 967.4,325.7 967.4,358.0 925.0,379.7" fill="#8f8693" stroke="#161616" stroke-width="1.3" stroke-linejoin="round" />
<polygon points="925.0,379.7 967.4,358.0 1014.0,446.0 1010.6,446.5 1005.0,465.7 991.4,464.0 989.8,475.3 973.8,473.7 969.0,480.0 966.6,483.3 925.7,402.4 925.0,401.3" fill="#cec2d4" stroke="#6a6270" stroke-width="0.7" stroke-linejoin="round" />
<polygon points="913.7,408.8 925.0,401.3 925.7,402.4 959.4,469.0 956.0,469.5 951.0,466.0 946.5,466.5 943.0,472.5" fill="#8a8290" stroke="#5a5260" stroke-width="0.7" stroke-linejoin="round" />
<polygon points="902.5,361.3 925.0,350.0 925.0,401.3 902.5,413.3" fill="#8f8693" stroke="#161616" stroke-width="1.3" stroke-linejoin="round" />
<line x1="716.4" y1="274.0" x2="800.0" y2="340.0" stroke="#161616" stroke-width="1.6"/>
<line x1="800.0" y1="340.0" x2="902.5" y2="415.2" stroke="#161616" stroke-width="1.6"/>
<line x1="825.2" y1="278.8" x2="925.0" y2="350.0" stroke="#161616" stroke-width="1.6"/>
<line x1="818.2" y1="301.5" x2="902.5" y2="361.3" stroke="#161616" stroke-width="1.6"/>
<line x1="913.7" y1="408.8" x2="946.5" y2="480.0" stroke="#161616" stroke-width="1.6"/>
<line x1="925.7" y1="402.4" x2="966.6" y2="483.3" stroke="#161616" stroke-width="1.6"/>
<line x1="967.4" y1="358.0" x2="1022.7" y2="462.5" stroke="#161616" stroke-width="1.6"/>
<circle cx="723.5" cy="58.1" r="1" fill="#222"/>
<circle cx="711.5" cy="145.2" r="1" fill="#222"/>
<circle cx="557" cy="152" r="1" fill="#222"/>
<circle cx="152" cy="396" r="1" fill="#222"/>
<circle cx="153.5" cy="277.5" r="1" fill="#222"/>
<text x="865.5" y="501" font-family="Liberation Sans" font-size="14.5" font-weight="bold" fill="none" stroke="#1856a8" stroke-width="3.2" stroke-linejoin="round" textLength="141" lengthAdjust="spacingAndGlyphs">UMELTSI.RU</text>
<text x="865.5" y="501" font-family="Liberation Sans" font-size="14.5" font-weight="bold" fill="#d2f2ff" stroke="#2a7ad0" stroke-width="0.5" textLength="141" lengthAdjust="spacingAndGlyphs">UMELTSI.RU</text>
<rect x="0" y="521.5" width="1024" height="2.5" fill="#7a7a7a"/>
</g>
</svg>
</body></html>
